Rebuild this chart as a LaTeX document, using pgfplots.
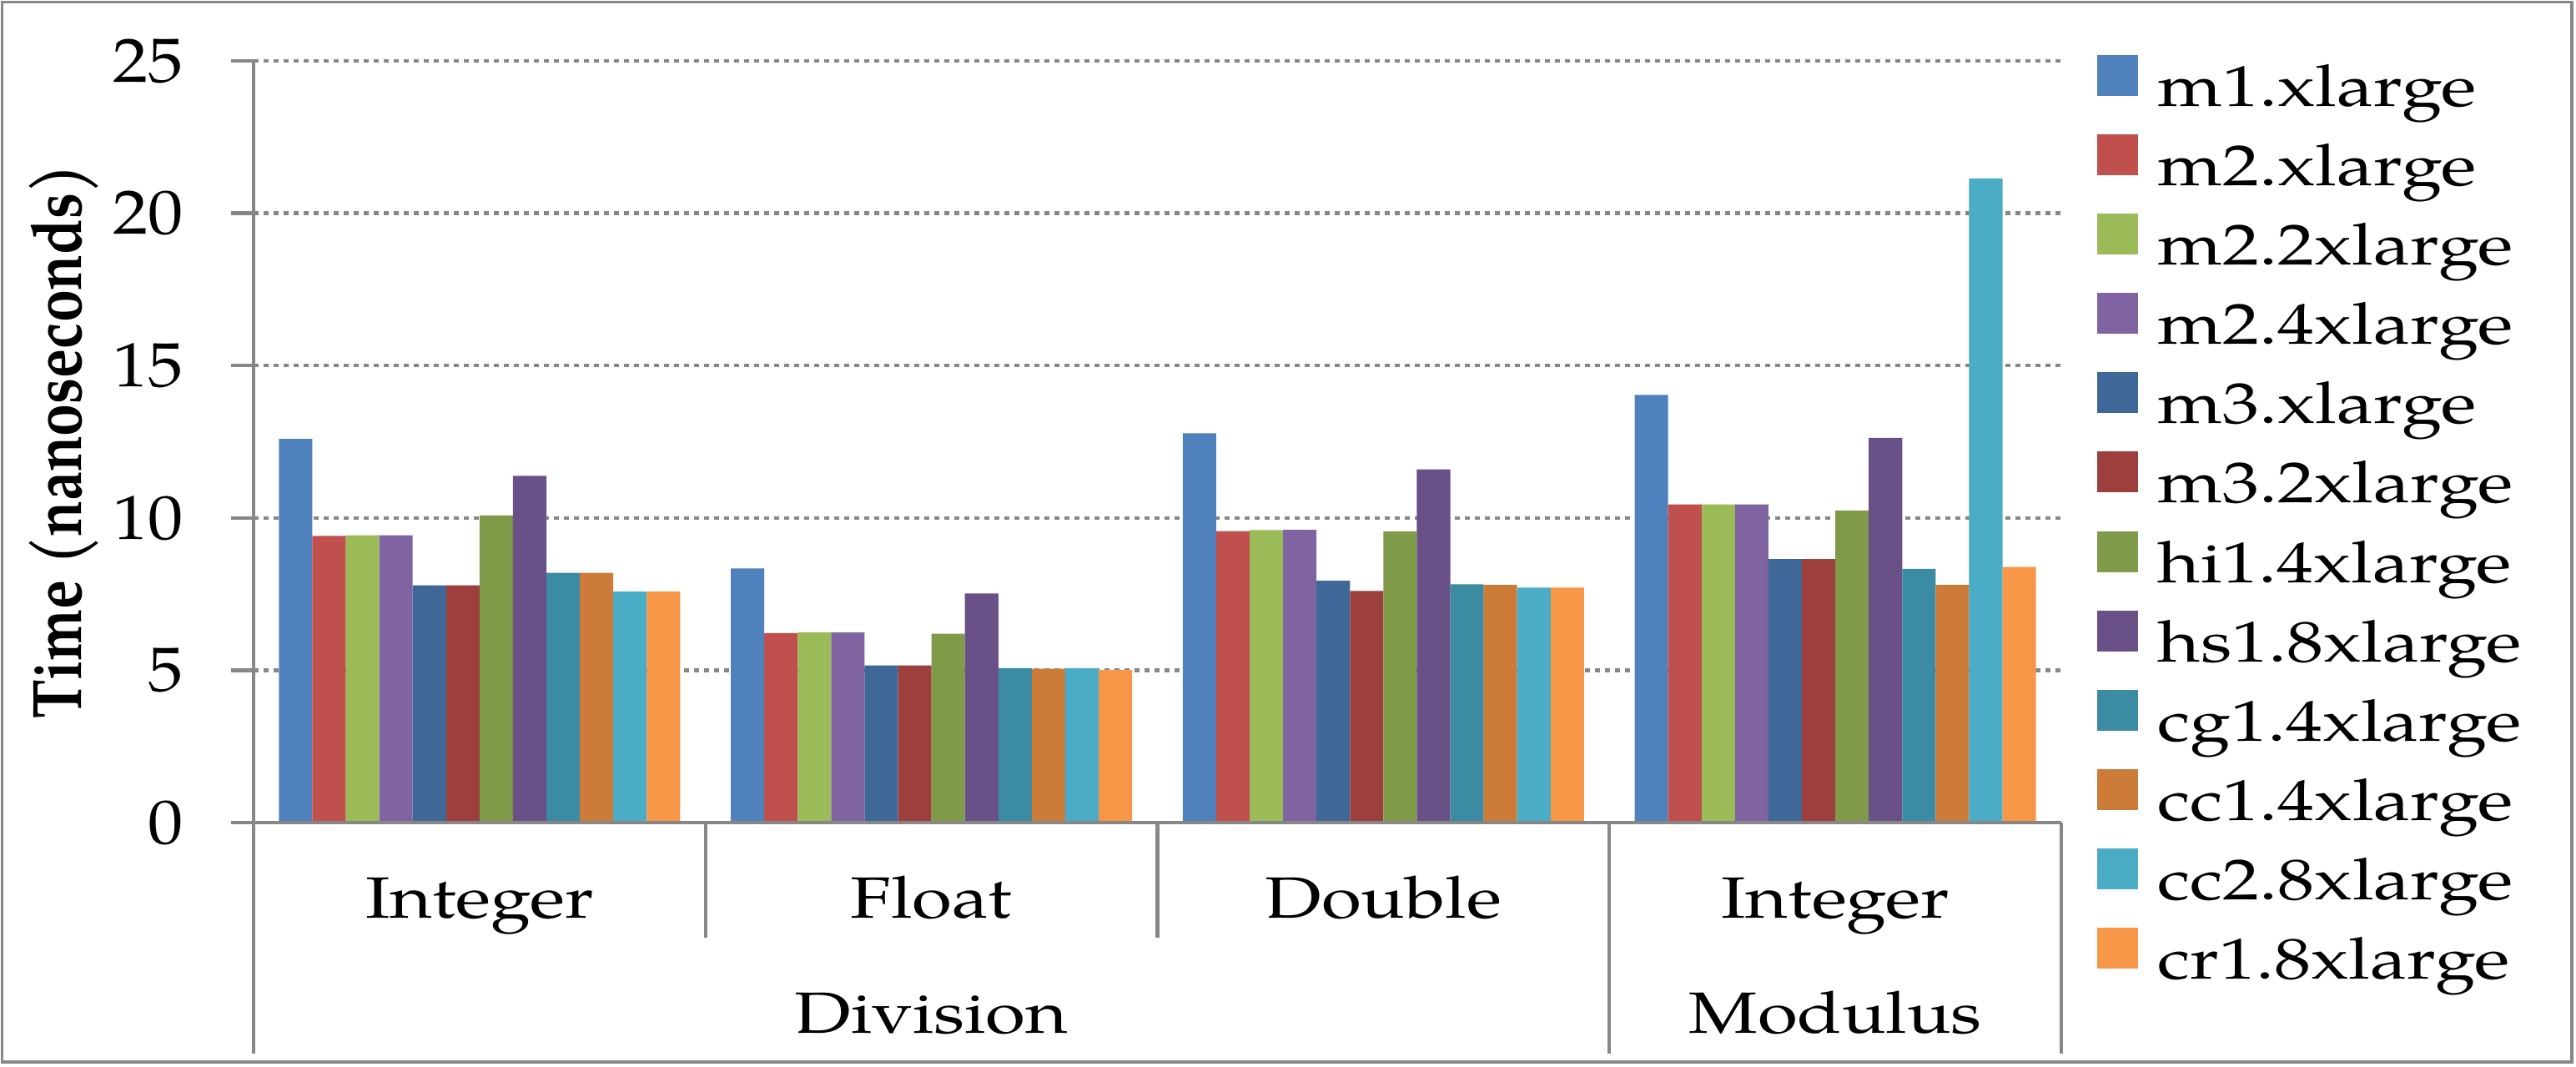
\documentclass[border=0pt]{standalone}
\usepackage{pgfplots}
\pgfplotsset{compat=1.18}
\usepackage{fontspec}
\usepackage{graphicx}
\setmainfont{texgyrepagella}[Extension=.otf, UprightFont=*-regular, BoldFont=*-bold, ItalicFont=*-italic, BoldItalicFont=*-bolditalic]
\newfontfamily\legfont{texgyrepagella}[Extension=.otf, UprightFont=*-regular, BoldFont=*-bold, FakeStretch=1.27]
\newfontfamily\catfont{texgyrepagella}[Extension=.otf, UprightFont=*-regular, BoldFont=*-bold, FakeStretch=1.25]
\newfontfamily\tickfont{texgyrepagella}[Extension=.otf, UprightFont=*-regular, BoldFont=*-bold, FakeStretch=1.13]
\definecolor{axgray}{HTML}{878787}
\definecolor{cA}{HTML}{4F81BD}
\definecolor{cB}{HTML}{C0504D}
\definecolor{cC}{HTML}{9BBB59}
\definecolor{cD}{HTML}{8064A2}
\definecolor{cE}{HTML}{3F6797}
\definecolor{cF}{HTML}{9D3F3D}
\definecolor{cG}{HTML}{7F9A48}
\definecolor{cH}{HTML}{695086}
\definecolor{cI}{HTML}{3B8BA2}
\definecolor{cJ}{HTML}{CC7B38}
\definecolor{cK}{HTML}{4BACC6}
\definecolor{cL}{HTML}{F79646}
\begin{document}
\begin{tikzpicture}
\useasboundingbox (0,0) rectangle (772pt,319.5pt);
\draw[axgray, line width=0.9pt] (0.6pt,1.3pt) rectangle (770.8pt,318.9pt);
\begin{axis}[
  at={(76pt,73pt)}, anchor=south west,
  scale only axis, width=541.75pt, height=228.25pt,
  xmin=0, xmax=4, ymin=0, ymax=25,
  clip=false,
  axis lines*=left,
  axis line style={axgray, line width=1.1pt},
  xtick=\empty,
  ytick={0,5,10,15,20,25},
  tick align=outside,
  major tick length=6.75pt,
  ytick style={axgray, line width=1.1pt},
  /pgf/number format/assume math mode=true,
  yticklabel style={font=\tickfont\fontsize{18.7}{22}\selectfont, inner sep=0pt, xshift=-14pt},
  ymajorgrids,
  grid style={axgray, line width=1.1pt, dash pattern=on 1.5pt off 1.5pt},
  ylabel={\scalebox{1}[1.2]{Time (nanoseconds)}},
  ylabel style={at={(axis description cs:-0.1052,0.5)}, anchor=center, font=\fontsize{17.5}{20}\selectfont\bfseries},
  ybar, bar width=0.074,
  every axis plot/.append style={draw=none},
  legend cell align=left,
  legend image code/.code={\fill[#1, draw=none] (0pt,-1.375pt) rectangle (12.25pt,10.875pt);},
  legend style={at={(axis description cs:1.0198,1.0077)}, anchor=north west, draw=none, fill=none,
    inner sep=0pt, outer sep=0pt, row sep=3.4pt, column sep=6pt,
    font=\legfont\fontsize{17.3}{21}\selectfont,
    nodes={inner sep=0pt, outer sep=0pt, text height=14pt, text depth=5pt}},
]
\addplot[fill=cA, bar shift=-0.407] coordinates {(0.5,12.59) (1.5,8.34) (2.5,12.78) (3.5,14.04)};
\addplot[fill=cB, bar shift=-0.333] coordinates {(0.5,9.41) (1.5,6.22) (2.5,9.57) (3.5,10.44)};
\addplot[fill=cC, bar shift=-0.259] coordinates {(0.5,9.43) (1.5,6.25) (2.5,9.60) (3.5,10.44)};
\addplot[fill=cD, bar shift=-0.185] coordinates {(0.5,9.43) (1.5,6.24) (2.5,9.61) (3.5,10.44)};
\addplot[fill=cE, bar shift=-0.111] coordinates {(0.5,7.79) (1.5,5.16) (2.5,7.94) (3.5,8.65)};
\addplot[fill=cF, bar shift=-0.037] coordinates {(0.5,7.79) (1.5,5.16) (2.5,7.60) (3.5,8.65)};
\addplot[fill=cG, bar shift=0.037] coordinates {(0.5,10.08) (1.5,6.20) (2.5,9.56) (3.5,10.24)};
\addplot[fill=cH, bar shift=0.111] coordinates {(0.5,11.38) (1.5,7.52) (2.5,11.59) (3.5,12.63)};
\addplot[fill=cI, bar shift=0.185] coordinates {(0.5,8.20) (1.5,5.07) (2.5,7.82) (3.5,8.33)};
\addplot[fill=cJ, bar shift=0.259] coordinates {(0.5,8.20) (1.5,5.05) (2.5,7.80) (3.5,7.80)};
\addplot[fill=cK, bar shift=0.333] coordinates {(0.5,7.58) (1.5,5.07) (2.5,7.71) (3.5,21.14)};
\addplot[fill=cL, bar shift=0.407] coordinates {(0.5,7.58) (1.5,5.01) (2.5,7.71) (3.5,8.39)};
\legend{m1.xlarge,m2.xlarge,m2.2xlarge,m2.4xlarge,m3.xlarge,m3.2xlarge,hi1.4xlarge,hs1.8xlarge,cg1.4xlarge,cc1.4xlarge,cc2.8xlarge,cr1.8xlarge}
\draw[axgray, line width=1.1pt] (axis cs:0,0) -- (axis cs:4,0);
\draw[axgray, line width=1.1pt] (axis cs:0,0) -- ++(0,-69.25pt);
\draw[axgray, line width=1.1pt] (axis cs:3,0) -- ++(0,-69.25pt);
\draw[axgray, line width=1.1pt] (axis cs:4,0) -- ++(0,-69.25pt);
\draw[axgray, line width=1.1pt] (axis cs:1,0) -- ++(0,-34.5pt);
\draw[axgray, line width=1.1pt] (axis cs:2,0) -- ++(0,-34.5pt);
\begin{scope}[every node/.style={font=\catfont\fontsize{17.45}{21}\selectfont, inner sep=0pt, anchor=base}]
\node at ([yshift=-28.5pt]axis cs:0.5,0) {Integer};
\node at ([yshift=-28.5pt]axis cs:1.5,0) {Float};
\node at ([yshift=-28.5pt]axis cs:2.5,0) {Double};
\node at ([yshift=-28.5pt]axis cs:3.5,0) {Integer};
\node at ([yshift=-63pt]axis cs:1.5,0) {Division};
\node at ([yshift=-63pt]axis cs:3.5,0) {Modulus};
\end{scope}
\end{axis}
\end{tikzpicture}
\end{document}
